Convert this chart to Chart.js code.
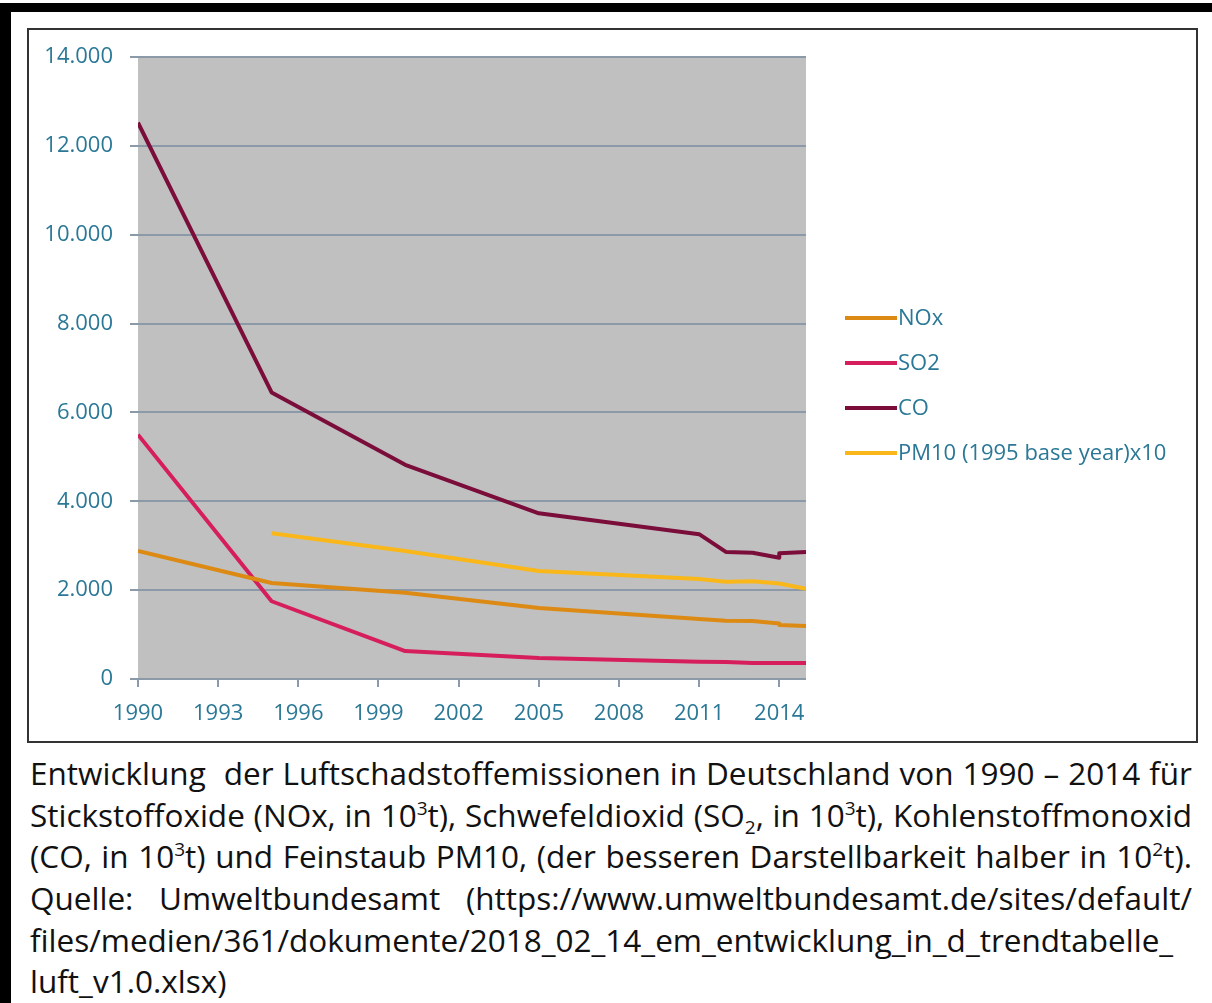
<!DOCTYPE html>
<html>
<head>
<meta charset="utf-8">
<script src="https://cdn.jsdelivr.net/npm/chart.js@4.4.1/dist/chart.umd.min.js"></script>
<style>
  html, body { margin: 0; padding: 0; background: #ffffff; }
  body { width: 1212px; height: 1003px; position: relative; overflow: hidden; font-family: 'Open Sans', sans-serif; }
  #topband { position: absolute; left: 0; top: 3px; width: 1212px; height: 9px; background: #000; }
  #leftband { position: absolute; left: 0; top: 3px; width: 11px; height: 1000px; background: #000; }
  #box { position: absolute; left: 27px; top: 28px; width: 1167px; height: 711px; border: 2px solid #333; }
  #chartwrap { position: absolute; left: 0; top: 0; width: 1212px; height: 745px; }
  .cap { position: absolute; left: 30px; width: 1162px; height: 42px; line-height: 42px; font-size: 31.5px; color: #111; white-space: nowrap; overflow: visible; }
  .just { text-align: justify; text-align-last: justify; }
  .sup { font-size: 19px; position: relative; top: -12px; line-height: 0; }
  .sub { font-size: 19px; position: relative; top: 7px; line-height: 0; }
</style>
</head>
<body>
<div id="topband"></div>
<div id="leftband"></div>
<div id="box"></div>
<div id="chartwrap"><canvas id="c" width="1212" height="745"></canvas></div>

<div class="cap just" style="top:752px">Entwicklung&nbsp; der Luftschadstoffemissionen in Deutschland von 1990 – 2014 für</div>
<div class="cap just" style="top:794px">Stickstoffoxide (NOx, in 10<span class="sup">3</span>t), Schwefeldioxid (SO<span class="sub">2</span>, in 10<span class="sup">3</span>t), Kohlenstoffmonoxid</div>
<div class="cap just" style="top:835px">(CO, in 10<span class="sup">3</span>t) und Feinstaub PM10, (der besseren Darstellbarkeit halber in 10<span class="sup">2</span>t).</div>
<div class="cap just" style="top:877px">Quelle: Umweltbundesamt (https://www.umweltbundesamt.de/sites/default/</div>
<div class="cap" style="top:919px">files/medien/361/dokumente/2018_02_14_em_entwicklung_in_d_trendtabelle_</div>
<div class="cap" style="top:960px">luft_v1.0.xlsx)</div>

<script>
// ---- data ----
const years      = [1990, 1995, 2000, 2005, 2011, 2012, 2013, 2014, 2014, 2015];
const noxValues  = [2880, 2160, 1940, 1600, 1350, 1310, 1305, 1250, 1215, 1195];
const so2Values  = [5500, 1750,  630,  470,  390,  385,  360,  360,  360,  360];
const coValues   = [12520, 6450, 4820, 3730, 3260, 2860, 2840, 2730, 2830, 2860];
const pm10Values = [null, 3280, 2880, 2430, 2250, 2190, 2200, 2150, 2150, 2030];
const seriesNames  = ['NOx', 'SO2', 'CO', 'PM10 (1995 base year)x10'];
const seriesColors = ['#dc8a14', '#d61e5c', '#7b0d3a', '#f9b719'];
const xTickValues = [1990, 1993, 1996, 1999, 2002, 2005, 2008, 2011, 2014];
const yTickValues = [0, 2000, 4000, 6000, 8000, 10000, 12000, 14000];

const TEAL = '#2a7896';
const GRID = '#8b99a8';
const FONT = "'Open Sans', sans-serif";

function toPoints(vals) { return years.map((yr, i) => ({ x: yr, y: vals[i] })); }
const allValues = [noxValues, so2Values, coValues, pm10Values];

const datasets = allValues.map((vals, i) => ({
  label: seriesNames[i],
  data: toPoints(vals),
  borderColor: seriesColors[i],
  backgroundColor: seriesColors[i],
  borderWidth: 4,
  pointRadius: 0,
  tension: 0,
  fill: false,
  spanGaps: false,
  borderJoinStyle: 'round'
}));

const plotBg = {
  id: 'plotBg',
  beforeDraw(chart) {
    const a = chart.chartArea, ctx = chart.ctx;
    ctx.save();
    ctx.fillStyle = '#c0c0c0';
    ctx.fillRect(a.left, a.top, a.right - a.left, a.bottom - a.top);
    ctx.restore();
  }
};

const sideLegend = {
  id: 'sideLegend',
  afterDraw(chart) {
    const ctx = chart.ctx;
    ctx.save();
    ctx.font = '22px ' + FONT;
    ctx.textBaseline = 'middle';
    ctx.textAlign = 'left';
    chart.data.datasets.forEach((ds, i) => {
      const y = 318 + i * 45;
      ctx.strokeStyle = ds.borderColor;
      ctx.lineWidth = 4;
      ctx.beginPath();
      ctx.moveTo(845, y);
      ctx.lineTo(897, y);
      ctx.stroke();
      ctx.fillStyle = TEAL;
      ctx.fillText(ds.label, 898, y + 1);
    });
    ctx.restore();
  }
};

new Chart(document.getElementById('c'), {
  type: 'line',
  data: { datasets },
  plugins: [plotBg, sideLegend],
  options: {
    responsive: false,
    animation: false,
    devicePixelRatio: 1,
    layout: { padding: { left: 0, top: 57, right: 406, bottom: 11 } },
    plugins: { legend: { display: false }, tooltip: { enabled: false } },
    scales: {
      x: {
        type: 'linear',
        min: 1990,
        max: 2015,
        afterBuildTicks: s => { s.ticks = xTickValues.map(v => ({ value: v })); },
        afterFit: s => { s.height = 55; },
        ticks: {
          callback: v => String(v),
          color: TEAL,
          font: { family: FONT, size: 22 },
          padding: 14,
          maxRotation: 0,
          autoSkip: false
        },
        grid: { drawOnChartArea: false, drawTicks: true, tickLength: 8, tickColor: GRID, lineWidth: 2 },
        border: { display: false }
      },
      y: {
        min: 0,
        max: 14000,
        afterBuildTicks: s => { s.ticks = yTickValues.map(v => ({ value: v })); },
        afterFit: s => { s.width = 138; },
        ticks: {
          callback: v => new Intl.NumberFormat('de-DE').format(v),
          color: TEAL,
          font: { family: FONT, size: 22 },
          padding: 17
        },
        grid: { color: GRID, lineWidth: 2, drawTicks: true, tickLength: 8, tickColor: GRID },
        border: { display: false }
      }
    }
  }
});
</script>
</body>
</html>
